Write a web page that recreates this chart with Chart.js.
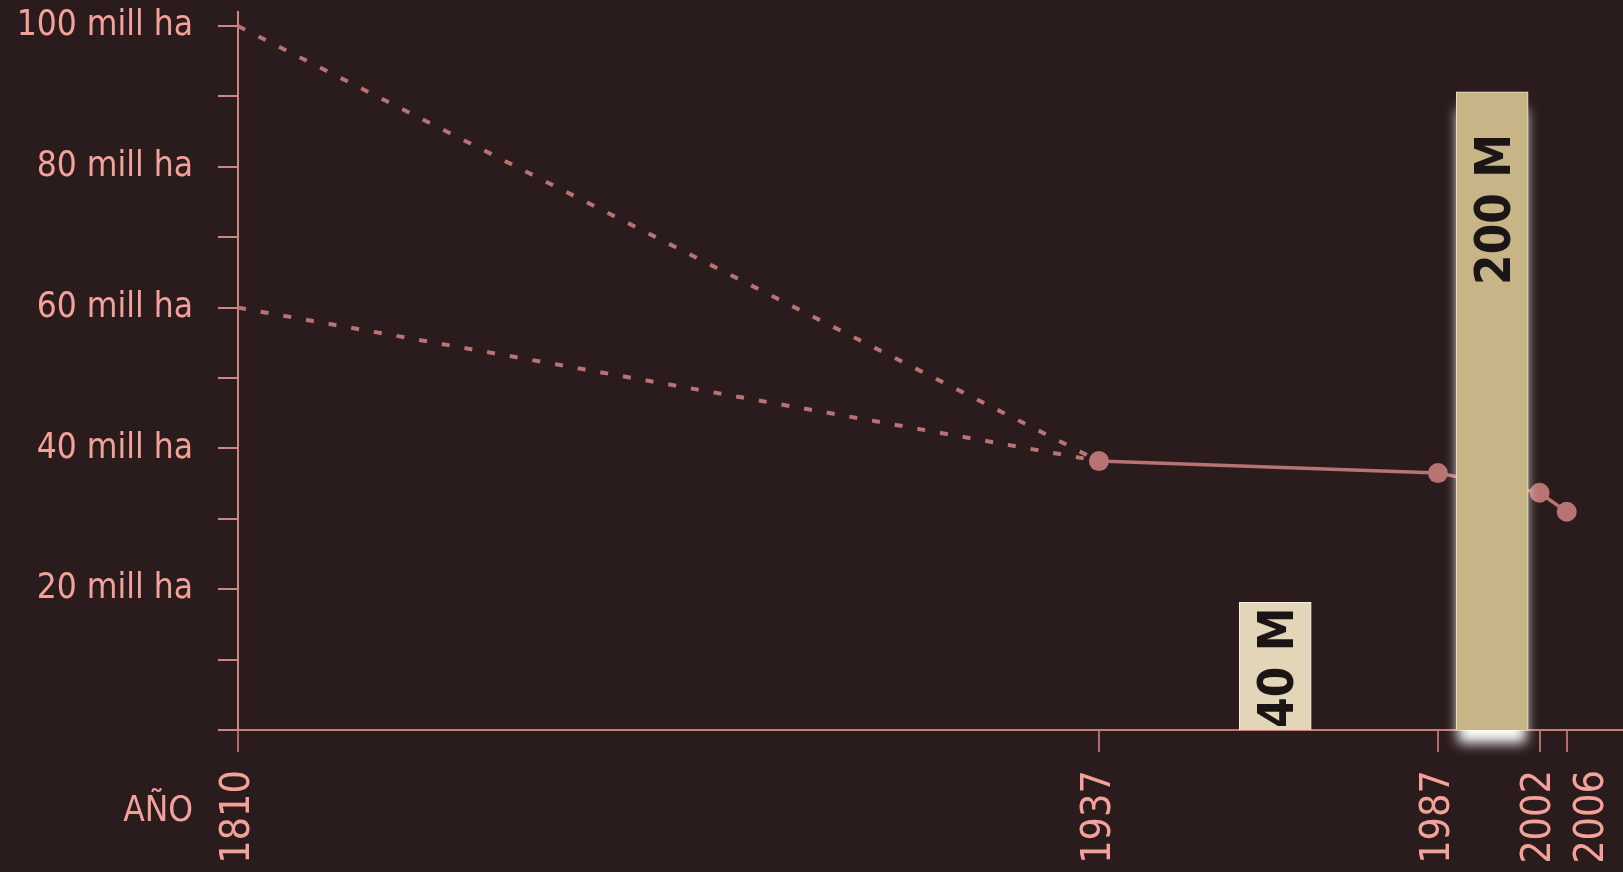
<!DOCTYPE html>
<html>
<head>
<meta charset="utf-8">
<script src="https://cdn.jsdelivr.net/npm/chart.js@4/dist/chart.umd.min.js"></script>
<style>
  html, body { margin: 0; padding: 0; background: #2a1b1c; overflow: hidden; }
  #wrap { width: 1623px; height: 872px; }
  canvas { display: block; }
</style>
</head>
<body>
<div id="wrap"><canvas id="chart"></canvas></div>
<script>
// superficie forestal (mill ha)
const years = [1937, 1987, 2002, 2006];
const forest = [38.2, 36.5, 33.7, 31.0];
// estimaciones antiguas (dos hipótesis para 1810)
const estYears = [1810, 1937];
const estHigh = [100, 38.2];
const estLow = [60, 38.2];
// barras (millones)
const barYears = [1963, 1995];
const barValues = [40, 200];
const barLabels = ['40 M', '200 M'];
const tickYears = [1810, 1937, 1987, 2002, 2006];
const yTicks = [0, 10, 20, 30, 40, 50, 60, 70, 80, 90, 100];

const pink = '#f4a19a';
const lineCol = '#b87373';
const font = '"DejaVu Sans Condensed", "Liberation Sans Narrow", "DejaVu Sans", sans-serif';

const xy = (xs, ys) => xs.map((x, i) => ({ x: x, y: ys[i] }));

// brillo blanco bajo la barra grande
const glowPlugin = {
    id: 'glow',
    beforeDatasetDraw(chart, args) {
        if (args.meta.type !== 'bar') return;
        const el = args.meta.data[1];
        if (!el) return;
        const ctx = chart.ctx;
        ctx.save();
        ctx.shadowColor = 'rgba(255,255,255,1)';
        ctx.shadowBlur = 12;
        ctx.shadowOffsetY = 13;
        ctx.fillStyle = '#ffffff';
        ctx.fillRect(el.x - el.width / 2 + 2, el.y + 4, el.width - 4, el.base - el.y - 4);
        ctx.restore();
    }
};

// textos verticales dentro de las barras, años del eje x y "AÑO"
const labelPlugin = {
    id: 'labels',
    afterDatasetsDraw(chart) {
        const ctx = chart.ctx;
        const meta = chart.getDatasetMeta(0);
        const area = chart.chartArea;
        ctx.save();
        ctx.font = 'bold 49px ' + font;
        ctx.fillStyle = '#1c1516';
        ctx.textAlign = 'left';
        ctx.textBaseline = 'alphabetic';
        meta.data.forEach((el, i) => {
            const txt = barLabels[i];
            const w = ctx.measureText(txt).width;
            let start = el.y + 42 + w;
            if (start > el.base - 2) start = el.base - 2;
            ctx.save();
            ctx.translate(el.x + 18, start);
            ctx.rotate(-Math.PI / 2);
            ctx.fillText(txt, 0, 0);
            ctx.restore();
        });

        // años: se separan si quedan demasiado juntos
        const xs = chart.scales.x;
        ctx.font = '41px ' + font;
        ctx.fillStyle = pink;
        ctx.textAlign = 'right';
        ctx.textBaseline = 'middle';
        let prev = -Infinity;
        tickYears.forEach(v => {
            let px = xs.getPixelForValue(v);
            if (px - prev < 53) px = prev + 53;
            prev = px;
            ctx.save();
            ctx.translate(px, area.bottom + 40);
            ctx.rotate(-Math.PI / 2);
            ctx.fillText(String(v), 0, 0);
            ctx.restore();
        });

        ctx.font = '35px ' + font;
        ctx.textAlign = 'right';
        ctx.fillText('AÑO', area.left - 45, area.bottom + 82);
        ctx.restore();
    }
};

new Chart(document.getElementById('chart'), {
    data: {
        datasets: [
            {
                type: 'bar',
                data: xy(barYears, barValues),
                yAxisID: 'y2',
                backgroundColor: ['#e3d6b8', '#c7b587'],
                borderColor: ['#f6efe0', '#efe6d2'],
                borderWidth: 1,
                barThickness: 72,
                grouped: false,
                order: 0
            },
            {
                type: 'line',
                data: xy(years, forest),
                borderColor: lineCol,
                backgroundColor: lineCol,
                borderWidth: 3.5,
                pointRadius: 10,
                pointBackgroundColor: lineCol,
                pointBorderWidth: 0,
                clip: false,
                order: 1
            },
            {
                type: 'line',
                data: xy(estYears, estHigh),
                borderColor: lineCol,
                borderWidth: 4,
                borderDash: [8, 15],
                pointRadius: 0,
                clip: false,
                order: 2
            },
            {
                type: 'line',
                data: xy(estYears, estLow),
                borderColor: lineCol,
                borderWidth: 4,
                borderDash: [8, 15],
                pointRadius: 0,
                clip: false,
                order: 2
            }
        ]
    },
    options: {
        responsive: true,
        maintainAspectRatio: false,
        animation: false,
        layout: { autoPadding: false, padding: { top: 12, left: 0, right: 0, bottom: 0 } },
        plugins: { legend: { display: false }, tooltip: { enabled: false } },
        scales: {
            x: {
                type: 'linear',
                min: 1810,
                max: 2014.3,
                offset: false,
                afterBuildTicks: s => { s.ticks = tickYears.map(v => ({ value: v })); },
                afterFit: s => { s.height = 142; s.paddingLeft = 0; s.paddingRight = 0; },
                border: { color: '#c97b78', width: 2 },
                grid: { offset: false, drawOnChartArea: false, drawTicks: true, tickLength: 22, tickColor: '#b56c6c', lineWidth: 2 },
                ticks: { display: false, autoSkip: false }
            },
            y: {
                type: 'linear',
                min: 0,
                max: 102,
                afterBuildTicks: s => { s.ticks = yTicks.map(v => ({ value: v })); },
                afterFit: s => { s.width = 238; s.paddingTop = 0; s.paddingBottom = 0; },
                border: { color: '#cf8581', width: 2 },
                grid: { drawOnChartArea: false, drawTicks: true, tickLength: 20, tickColor: '#cf8581', lineWidth: 2 },
                ticks: {
                    padding: 25,
                    color: pink,
                    font: { family: font, size: 35 },
                    callback: v => (v > 0 && v % 20 === 0) ? v + ' mill ha' : ''
                }
            },
            y2: {
                type: 'linear',
                min: 0,
                max: 225,
                display: false
            }
        }
    },
    plugins: [glowPlugin, labelPlugin]
});
</script>
</body>
</html>
